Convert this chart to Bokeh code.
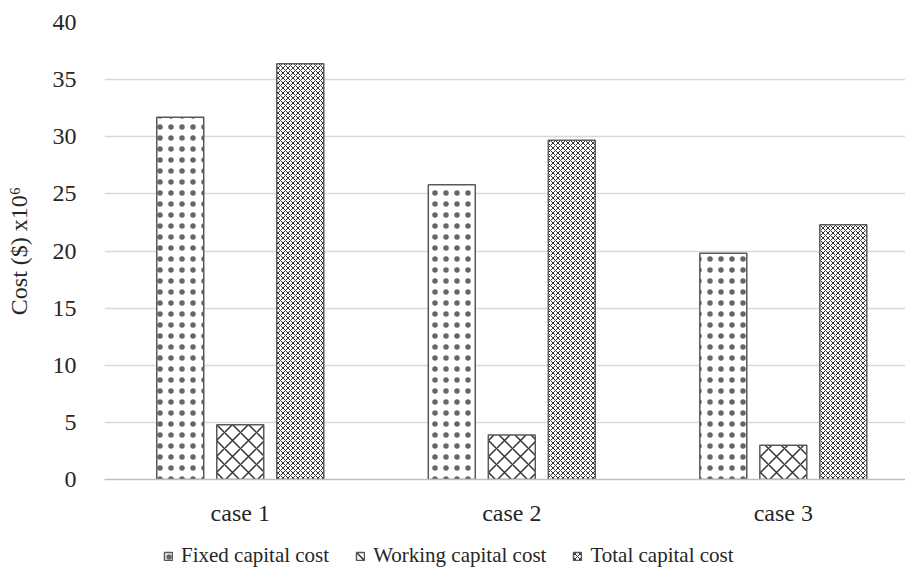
from bokeh.plotting import figure
from bokeh.layouts import column
from bokeh.models import ColumnDataSource, Legend, LegendItem, Range1d, FixedTicker
from bokeh.transform import dodge
from bokeh.embed import file_html
from bokeh.resources import INLINE

cases = ["case 1", "case 2", "case 3"]
fixed_cost = [31.7, 25.8, 19.8]
working_cost = [4.8, 3.9, 3.0]
total_cost = [36.4, 29.7, 22.3]
series_names = ["Fixed capital cost", "Working capital cost", "Total capital cost"]
y_ticks = [0, 5, 10, 15, 20, 25, 30, 35, 40]

case_pos = list(range(len(cases)))
src = ColumnDataSource(dict(pos=case_pos, fixed=fixed_cost, working=working_cost, total=total_cost))

FONT = "Liberation Serif"
TXT = "#262626"
W = 905

base = dict(fill_color="white", line_color="#595959", line_width=1.5)
style_fixed = dict(base, hatch_pattern="dot", hatch_scale=11, hatch_weight=0.5,
                   hatch_color="#666666")
style_working = dict(base, hatch_pattern="diagonal_cross", hatch_scale=16, hatch_weight=1.5,
                     hatch_color="#333333")
style_total = dict(base, hatch_pattern="diagonal_cross", hatch_scale=5, hatch_weight=1,
                   hatch_color="#333333")

p = figure(x_range=Range1d(-0.5, 2.45), y_range=Range1d(0, 40),
           width=W, height=528, output_backend="svg", toolbar_location=None,
           min_border_left=104, min_border_top=22, min_border_right=0, min_border_bottom=46)
p.outline_line_color = None
p.background_fill_color = "white"

bw = 0.173
r1 = p.vbar(x=dodge("pos", -0.221), top="fixed", width=bw, source=src, **style_fixed)
r2 = p.vbar(x=dodge("pos", 0.0), top="working", width=bw, source=src, **style_working)
r3 = p.vbar(x=dodge("pos", 0.221), top="total", width=bw, source=src, **style_total)

p.yaxis.ticker = FixedTicker(ticks=y_ticks)
p.yaxis.axis_line_color = None
p.yaxis.major_tick_line_color = None
p.yaxis.minor_tick_line_color = None
p.yaxis.major_label_text_font = FONT
p.yaxis.major_label_text_font_size = "24px"
p.yaxis.major_label_text_color = TXT
p.yaxis.major_label_standoff = 22
p.yaxis.axis_label = "Cost ($) x10\u2076"
p.yaxis.axis_label_text_font = FONT
p.yaxis.axis_label_text_font_style = "normal"
p.yaxis.axis_label_text_font_size = "24px"
p.yaxis.axis_label_text_color = TXT
p.yaxis.axis_label_standoff = 18

p.xaxis.ticker = FixedTicker(ticks=case_pos)
p.xaxis.major_label_overrides = {i: c for i, c in zip(case_pos, cases)}
p.xaxis.axis_line_color = "#bfbfbf"
p.xaxis.axis_line_width = 1.5
p.xaxis.major_tick_line_color = None
p.xaxis.minor_tick_line_color = None
p.xaxis.major_label_text_font = FONT
p.xaxis.major_label_text_font_size = "24px"
p.xaxis.major_label_text_color = TXT
p.xaxis.major_label_standoff = 14

p.xgrid.grid_line_color = None
p.ygrid.grid_line_color = "#d9d9d9"
p.ygrid.grid_line_width = 1.5

# legend strip (degenerate zero-size proxy renderers, only used for legend glyphs)
lg = figure(width=W, height=44, x_range=Range1d(0, 1), y_range=Range1d(0, 1),
            output_backend="svg", toolbar_location=None, min_border=0,
            x_axis_location=None, y_axis_location=None)
lg.grid.visible = False
lg.outline_line_color = None
e1 = lg.vbar(x=[0.5], top=[0.5], bottom=[0.5], width=0, **style_fixed)
e2 = lg.vbar(x=[0.5], top=[0.5], bottom=[0.5], width=0, **style_working)
e3 = lg.vbar(x=[0.5], top=[0.5], bottom=[0.5], width=0, **style_total)

legend = Legend(items=[LegendItem(label=series_names[0], renderers=[e1]),
                       LegendItem(label=series_names[1], renderers=[e2]),
                       LegendItem(label=series_names[2], renderers=[e3])],
                orientation="horizontal", location=(59, 4),
                label_text_font=FONT, label_text_font_size="21px", label_text_color=TXT,
                glyph_width=10, glyph_height=10, spacing=26, label_standoff=8,
                border_line_color=None, background_fill_alpha=0, margin=0, padding=0)
lg.add_layout(legend, "center")

layout = column(p, lg, spacing=0)
open("out.html", "w").write(file_html(layout, INLINE))
